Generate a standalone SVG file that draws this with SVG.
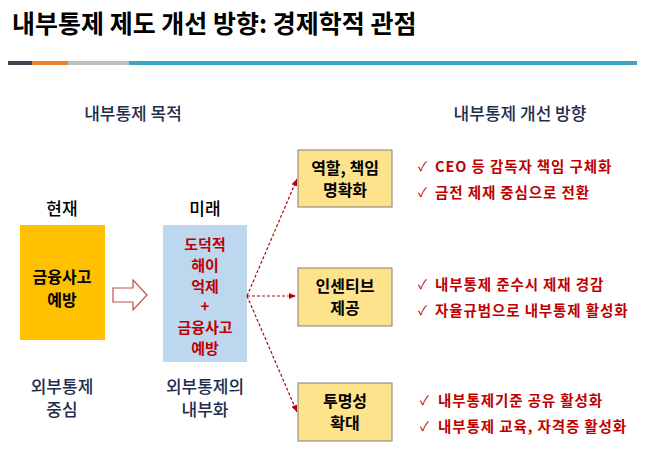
<svg xmlns="http://www.w3.org/2000/svg" width="652" height="456" viewBox="0 0 652 456">
<defs>
<style>
text{font-family:"Noto Sans CJK KR","Noto Sans",sans-serif;}
.t{font-size:17px;font-weight:500;fill:#1f2d4d;text-anchor:middle;}
.b{font-size:16px;font-weight:bold;fill:#000;text-anchor:middle;}
.r{font-size:14.5px;font-weight:bold;fill:#c00000;letter-spacing:0.9px;}
.ck{font-size:13px;fill:#c00000;}
.box{fill:#fde38c;stroke:#7f7f7f;stroke-width:1;}
.con{stroke:#c00000;stroke-width:1.2;stroke-dasharray:3,2;fill:none;marker-end:url(#ah);}
</style>
<marker id="ah" markerWidth="8" markerHeight="8" refX="7" refY="4" orient="auto" markerUnits="userSpaceOnUse"><path d="M0,1 L7,4 L0,7 Z" fill="#c00000"/></marker>
</defs>
<rect width="652" height="456" fill="#fff"/>
<text x="12" y="33" style="font-size:25px;font-weight:bold;fill:#000">내부통제 제도 개선 방향: 경제학적 관점</text>
<rect x="8" y="61" width="24" height="4" fill="#3a4452"/>
<rect x="32" y="61" width="36" height="4" fill="#e8832a"/>
<rect x="68" y="61" width="61" height="4" fill="#b7c3c0"/>
<rect x="129" y="61" width="508" height="4" fill="#3aa6c6"/>
<text class="t" x="133" y="120">내부통제 목적</text>
<text class="t" x="520" y="120">내부통제 개선 방향</text>
<g id="current">
<text class="t" x="62" y="215" style="fill:#000">현재</text>
<rect x="20" y="225" width="85" height="115" fill="#ffc000"/>
<text class="b" x="62" y="283">금융사고</text><text class="b" x="62" y="306">예방</text>
<text class="t" x="62" y="393">외부통제</text><text class="t" x="62" y="416">중심</text>
</g>
<g id="arrow-outline"><path d="M113,288 H133 V280 L147,295 L133,310 V302 H113 Z" fill="#fff" stroke="#c0504d" stroke-width="1.2"/></g>
<g id="future">
<text class="t" x="205" y="215" style="fill:#000">미래</text>
<rect x="163" y="225" width="84" height="137" fill="#bdd7ee"/>
<g style="font-size:15px;font-weight:bold;fill:#c00000;text-anchor:middle">
<text x="205" y="250">도덕적</text><text x="205" y="271">해이</text><text x="205" y="292">억제</text><text x="205" y="312">+</text><text x="205" y="333">금융사고</text><text x="205" y="354">예방</text></g>
<text class="t" x="205" y="393">외부통제의</text><text class="t" x="205" y="416">내부화</text>
</g>
<g id="connectors">
<path class="con" d="M247,296 L297,179"/>
<path class="con" d="M247,296 L296,296"/>
<path class="con" d="M247,296 L297,412"/>
</g>
<g id="n1"><rect class="box" x="298" y="150" width="94" height="57"/>
<text class="b" x="345" y="174">역할, 책임</text><text class="b" x="345" y="196">명확화</text></g>
<g id="n2"><rect class="box" x="298" y="268" width="94" height="58"/>
<text class="b" x="345" y="292">인센티브</text><text class="b" x="345" y="314">제공</text></g>
<g id="n3"><rect class="box" x="298" y="383" width="94" height="58"/>
<text class="b" x="345" y="407">투명성</text><text class="b" x="345" y="429">확대</text></g>
<g id="list">
<text class="ck" x="418" y="171">✓</text><text class="r" x="435" y="172">CEO 등 감독자 책임 구체화</text>
<text class="ck" x="418" y="197">✓</text><text class="r" x="435" y="198">금전 제재 중심으로 전환</text>
<text class="ck" x="418" y="289">✓</text><text class="r" x="435" y="290">내부통제 준수시 제재 경감</text>
<text class="ck" x="418" y="315">✓</text><text class="r" x="435" y="316">자율규범으로 내부통제 활성화</text>
<text class="ck" x="420" y="405">✓</text><text class="r" x="438" y="406">내부통제기준 공유 활성화</text>
<text class="ck" x="420" y="431">✓</text><text class="r" x="438" y="432">내부통제 교육, 자격증 활성화</text>
</g>
</svg>
